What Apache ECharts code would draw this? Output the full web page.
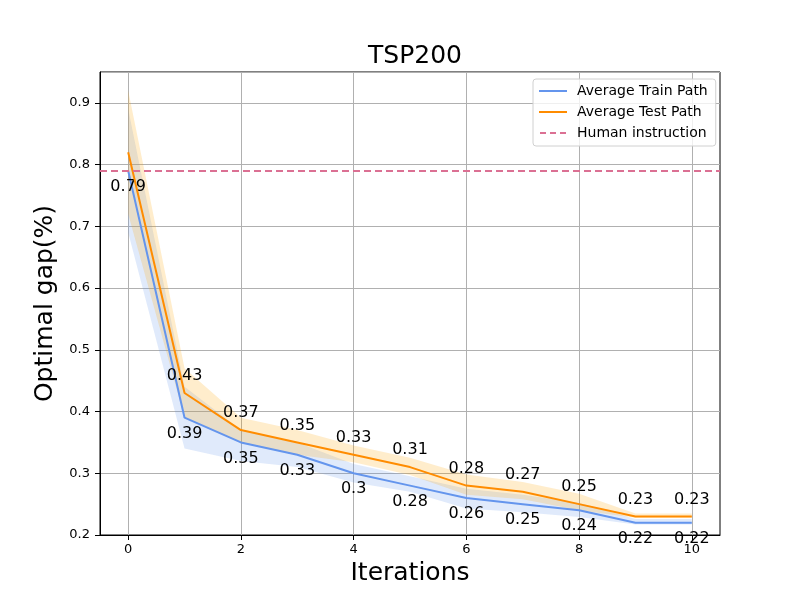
<!DOCTYPE html>
<html>
<head>
<meta charset="utf-8">
<script src="https://cdn.jsdelivr.net/npm/echarts@6/dist/echarts.min.js"></script>
<style>
  html, body { margin: 0; padding: 0; background: #fff; }
  #main-chart { width: 800px; height: 600px; }
</style>
</head>
<body>
<div id="main-chart"></div>
<script>
var iterations = [0, 1, 2, 3, 4, 5, 6, 7, 8, 9, 10];
var trainPath = [0.79, 0.39, 0.35, 0.33, 0.3, 0.28, 0.26, 0.25, 0.24, 0.22, 0.22];
var testPath = [0.82, 0.43, 0.37, 0.35, 0.33, 0.31, 0.28, 0.27, 0.25, 0.23, 0.23];
var trainLow = [0.69, 0.34, 0.32, 0.31, 0.285, 0.27, 0.243, 0.237, 0.229, 0.217, 0.217];
var trainHigh = [0.89, 0.44, 0.37, 0.35, 0.315, 0.295, 0.275, 0.265, 0.252, 0.226, 0.226];
var testLow = [0.72, 0.39, 0.35, 0.33, 0.318, 0.297, 0.265, 0.258, 0.24, 0.228, 0.228];
var testHigh = [0.92, 0.47, 0.39, 0.37, 0.345, 0.325, 0.298, 0.286, 0.267, 0.235, 0.235];
var humanInstruction = 0.79;
var xTicks = [0, 2, 4, 6, 8, 10];

var mainChart;
var font = 'DejaVu Sans';

window.onload = function () {
    chartInit();
}

function pairs(ys) {
    return ys.map(function (v, i) { return [iterations[i], v]; });
}

// one polygon per band, built through the axis scales
function bandSeries(name, lo, hi, color) {
    var rows = iterations.map(function (x, i) { return [x, lo[i], hi[i]]; });
    return {
        name: name,
        type: 'custom',
        silent: true,
        data: rows,
        encode: { x: 0, y: [1, 2] },
        z: 1,
        renderItem: function (params, api) {
            if (params.dataIndex !== 0) return null;
            var pts = [];
            for (var i = 0; i < rows.length; i++) pts.push(api.coord([rows[i][0], rows[i][2]]));
            for (var j = rows.length - 1; j >= 0; j--) pts.push(api.coord([rows[j][0], rows[j][1]]));
            return {
                type: 'polygon',
                shape: { points: pts },
                style: { fill: color }
            };
        }
    };
}

function pathSeries(name, ys, color, pos, dist, skipFirst, z) {
    return {
        name: name,
        type: 'line',
        data: pairs(ys),
        symbol: 'circle',
        symbolSize: 0,
        showSymbol: true,
        color: color,
        itemStyle: { color: color },
        lineStyle: { color: color, width: 2 },
        label: {
            show: true,
            position: pos,
            distance: dist,
            fontFamily: font,
            fontSize: 16,
            color: '#000',
            formatter: function (p) {
                return (skipFirst && p.dataIndex === 0) ? '' : String(p.value[1]);
            }
        },
        labelLayout: { hideOverlap: false },
        z: z
    };
}

function chartInit() {
    mainChart = echarts.init(document.getElementById('main-chart'));

    var series = [
        bandSeries('trainBand', trainLow, trainHigh, 'rgba(100,149,237,0.2)'),
        bandSeries('testBand', testLow, testHigh, 'rgba(255,165,0,0.2)'),
        pathSeries('Average Train Path', trainPath, '#6495ED', 'bottom', 8, false, 3),
        pathSeries('Average Test Path', testPath, '#FF8C00', 'top', 9, true, 4)
    ];

    series.push({
        name: 'Human instruction',
        type: 'line',
        data: [],
        symbol: 'none',
        color: '#DB7093',
        lineStyle: { color: '#DB7093', width: 2, type: [7, 4] },
        markLine: {
            silent: true,
            symbol: 'none',
            label: { show: false },
            lineStyle: { color: '#DB7093', width: 2, type: [7, 4] },
            data: [{ yAxis: humanInstruction }]
        },
        z: 5
    });

    var mainOpt = {
        animation: false,
        textStyle: { fontFamily: font },
        title: {
            text: 'TSP200',
            left: 410,
            top: 39,
            textAlign: 'center',
            textStyle: { fontFamily: font, fontSize: 25, fontWeight: 'normal', color: '#000' }
        },
        legend: {
            orient: 'vertical',
            left: 533,
            top: 79,
            data: [
                { name: 'Average Train Path', icon: 'rect' },
                { name: 'Average Test Path', icon: 'rect' },
                { name: 'Human instruction', icon: 'path://M0,0h6v2h-6z M10,0h6v2h-6z M20,0h6v2h-6z' }
            ],
            itemWidth: 28,
            itemHeight: 2,
            itemGap: 7,
            padding: [5, 8, 6, 6],
            backgroundColor: 'rgba(255,255,255,0.8)',
            borderColor: '#d0d0d0',
            borderWidth: 1,
            borderRadius: 3,
            textStyle: { fontFamily: font, fontSize: 14, color: '#000', padding: [0, 0, 0, 5] }
        },
        grid: {
            left: 100,
            right: 80,
            top: 72,
            bottom: 65,
            show: true,
            borderColor: '#000',
            borderWidth: 1
        },
        xAxis: {
            type: 'value',
            min: -0.5,
            max: 10.5,
            name: 'Iterations',
            nameLocation: 'middle',
            nameGap: 24,
            nameTextStyle: { fontFamily: font, fontSize: 25, color: '#000' },
            axisLine: { show: true, onZero: false, lineStyle: { color: '#000' } },
            axisTick: { show: true, length: 5, customValues: xTicks, lineStyle: { color: '#000' } },
            axisLabel: { customValues: xTicks, margin: 8, fontFamily: font, fontSize: 13, color: '#000' },
            splitLine: { show: true, lineStyle: { color: '#b0b0b0', width: 1 } }
        },
        yAxis: {
            type: 'value',
            min: 0.2,
            max: 0.95,
            interval: 0.1,
            name: 'Optimal gap(%)',
            nameLocation: 'middle',
            nameGap: 38,
            nameTextStyle: { fontFamily: font, fontSize: 25, color: '#000' },
            axisLine: { show: true, onZero: false, lineStyle: { color: '#000' } },
            axisTick: { show: true, length: 5, lineStyle: { color: '#000' } },
            axisLabel: {
                margin: 10,
                fontFamily: font,
                fontSize: 13,
                color: '#000',
                showMaxLabel: false,
                formatter: function (v) { return v > 0.94 ? '' : v.toFixed(1); }
            },
            splitLine: { show: true, lineStyle: { color: '#b0b0b0', width: 1 } }
        },
        series: series
    };

    mainChart.setOption(mainOpt);
}
</script>
</body>
</html>
